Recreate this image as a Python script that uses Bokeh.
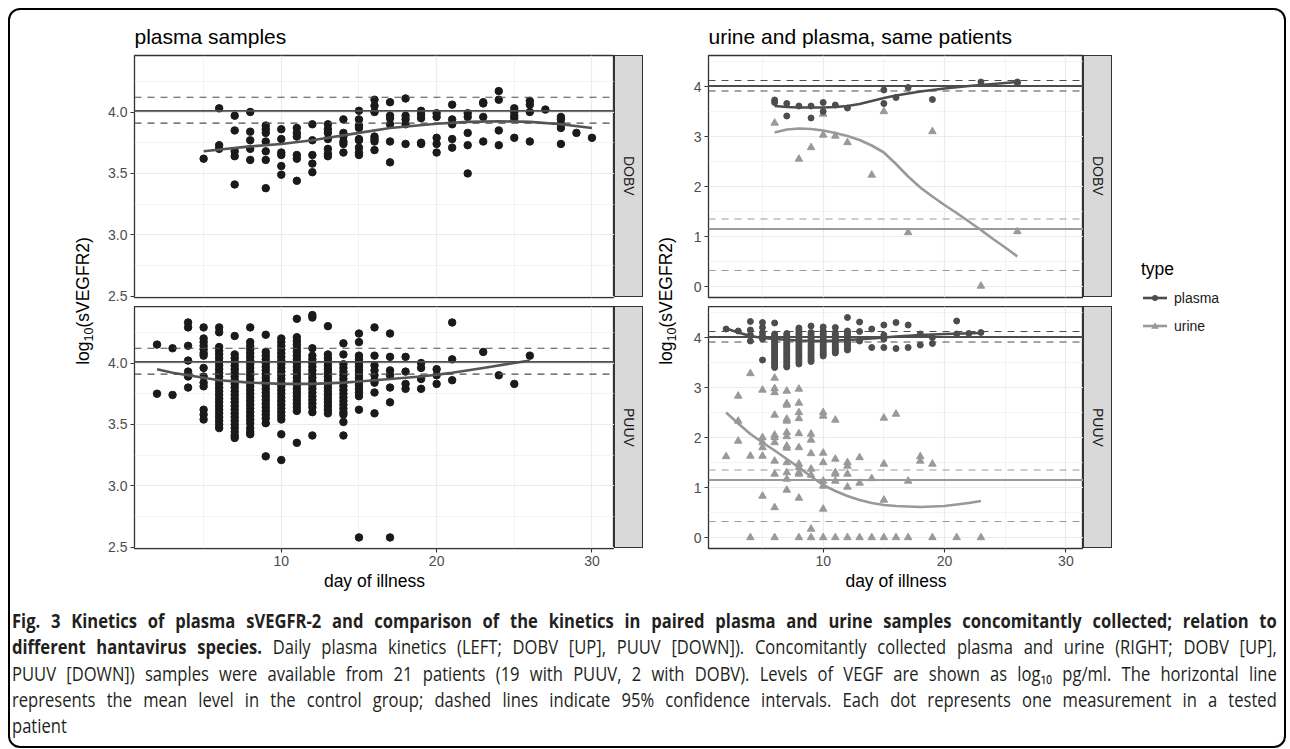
from bokeh.plotting import figure
from bokeh.models import Span, FixedTicker, NumeralTickFormatter, Div, Range1d
from bokeh.layouts import row, column
from bokeh.embed import file_html
from bokeh.resources import INLINE

FONT = "Liberation Sans"

# ---------------- data ----------------
# left panel, DOBV plasma (day -> values)
dobv_days = [5, 6, 7, 8, 9, 10, 11, 12, 13, 14, 15, 16, 17, 18, 19, 20, 21, 22, 23, 24, 25, 26, 27, 28, 29, 30]
dobv_vals = [
    [3.62], [4.03, 3.73, 3.70], [3.97, 3.85, 3.68, 3.64, 3.41], [4.00, 3.84, 3.77, 3.70, 3.61],
    [3.89, 3.86, 3.83, 3.76, 3.68, 3.61, 3.38], [3.86, 3.78, 3.67, 3.65, 3.56, 3.49],
    [3.87, 3.83, 3.80, 3.65, 3.62, 3.44], [3.90, 3.77, 3.65, 3.58, 3.51],
    [3.90, 3.86, 3.83, 3.78, 3.70, 3.66, 3.64], [3.94, 3.83, 3.80, 3.76, 3.74, 3.67],
    [4.01, 3.94, 3.89, 3.87, 3.78, 3.77, 3.71, 3.67, 3.65], [4.10, 4.05, 4.00, 3.80, 3.78, 3.76, 3.69],
    [4.08, 3.97, 3.95, 3.90, 3.76, 3.59], [4.11, 3.97, 3.94, 3.90, 3.74], [4.01, 3.98, 3.95, 3.75, 3.74],
    [3.99, 3.96, 3.79, 3.74, 3.67], [4.06, 3.94, 3.90, 3.78, 3.71], [3.99, 3.96, 3.83, 3.73, 3.50],
    [4.08, 4.07, 3.96, 3.76], [4.17, 4.10, 3.85, 3.73], [4.03, 4.00, 3.97, 3.95, 3.79],
    [4.09, 4.06, 4.00, 3.76], [4.02], [3.96, 3.94, 3.90, 3.87, 3.74], [3.83], [3.79],
]
dobv_smooth_x = [5, 8, 10, 12, 15, 17, 20, 22, 24, 26, 28, 30]
dobv_smooth_y = [3.68, 3.72, 3.74, 3.77, 3.83, 3.87, 3.905, 3.92, 3.925, 3.92, 3.90, 3.87]

# left panel, PUUV plasma
puuv_days = [2, 3, 4, 5, 6, 7, 8, 9, 10, 11, 12, 13, 14, 15, 16, 17, 18, 19, 20, 21, 23, 24, 25, 26]
puuv_vals = [
    [4.15, 3.75], [4.12, 3.74], [4.33, 4.29, 4.14, 4.02, 3.93, 3.89, 3.80],
    [4.29, 4.20, 4.17, 4.14, 4.11, 4.08, 4.06, 3.96, 3.89, 3.84, 3.81, 3.62, 3.58, 3.54],
    [4.29, 4.25, 4.13, 4.10, 4.07, 4.04, 4.01, 3.98, 3.95, 3.92, 3.89, 3.86, 3.83, 3.80, 3.77, 3.74,
     3.71, 3.68, 3.65, 3.62, 3.59, 3.56, 3.53, 3.50, 3.47],
    [4.22, 4.07, 4.04, 4.01, 3.98, 3.95, 3.92, 3.89, 3.86, 3.83, 3.80, 3.77, 3.74, 3.71, 3.68, 3.65,
     3.62, 3.59, 3.56, 3.53, 3.50, 3.47, 3.44, 3.41, 3.39],
    [4.29, 4.17, 4.14, 4.11, 4.08, 4.05, 4.02, 3.99, 3.96, 3.93, 3.90, 3.87, 3.84, 3.81, 3.78, 3.75,
     3.72, 3.69, 3.66, 3.63, 3.60, 3.57, 3.54, 3.51, 3.47, 3.44, 3.42],
    [4.23, 4.09, 4.06, 4.03, 4.00, 3.97, 3.94, 3.91, 3.88, 3.85, 3.82, 3.79, 3.76, 3.73, 3.70, 3.67,
     3.64, 3.61, 3.58, 3.55, 3.51, 3.24],
    [4.20, 4.17, 4.14, 4.11, 4.08, 4.05, 4.02, 3.99, 3.96, 3.93, 3.90, 3.87, 3.84, 3.81, 3.78, 3.75,
     3.72, 3.69, 3.66, 3.63, 3.60, 3.57, 3.54, 3.42, 3.21],
    [4.36, 4.21, 4.18, 4.15, 4.12, 4.09, 4.06, 4.03, 4.00, 3.97, 3.94, 3.91, 3.88, 3.85, 3.82, 3.79,
     3.76, 3.73, 3.70, 3.67, 3.64, 3.61, 3.35],
    [4.39, 4.37, 4.12, 4.06, 4.03, 4.00, 3.97, 3.94, 3.91, 3.88, 3.85, 3.82, 3.79, 3.76, 3.73, 3.70,
     3.67, 3.64, 3.60, 3.41],
    [4.30, 4.07, 4.04, 4.01, 3.98, 3.95, 3.92, 3.89, 3.86, 3.83, 3.80, 3.77, 3.74, 3.71, 3.68, 3.65,
     3.62, 3.59],
    [4.16, 4.07, 3.99, 3.96, 3.93, 3.90, 3.87, 3.84, 3.81, 3.78, 3.75, 3.72, 3.69, 3.66, 3.63, 3.60,
     3.58, 3.52, 3.41],
    [4.24, 4.17, 4.06, 4.03, 4.00, 3.97, 3.94, 3.91, 3.88, 3.85, 3.82, 3.79, 3.76, 3.73, 3.62, 2.58],
    [4.29, 4.06, 3.98, 3.94, 3.90, 3.86, 3.84, 3.76, 3.59], [4.24, 4.05, 3.94, 3.90, 3.80, 3.68, 2.58],
    [4.05, 3.93, 3.83, 3.79], [4.00, 3.96, 3.87, 3.79], [3.95, 3.90, 3.83], [4.33, 4.03, 3.86],
    [4.09], [3.90], [3.83], [4.06],
]
puuv_smooth_x = [2, 3, 4, 5, 6, 8, 10, 12, 14, 15, 17, 19, 21, 23, 26]
puuv_smooth_y = [3.95, 3.92, 3.90, 3.88, 3.86, 3.84, 3.83, 3.83, 3.84, 3.85, 3.87, 3.89, 3.92, 3.96, 4.02]

# right panel, DOBV paired samples
r_dobv_plasma_days = [6, 7, 8, 9, 10, 11, 12, 15, 16, 17, 19, 23, 26]
r_dobv_plasma_vals = [[3.73, 3.68], [3.66, 3.41], [3.61], [3.61, 3.37], [3.68, 3.50], [3.63], [3.57],
                      [3.93, 3.66], [3.78], [3.98], [3.74], [4.09], [4.09, 4.07]]
r_dobv_urine_days = [6, 8, 9, 10, 11, 12, 14, 15, 17, 19, 23, 26]
r_dobv_urine_vals = [[3.27], [2.55], [2.78], [3.45, 3.03], [3.01], [2.88], [2.23], [3.50], [1.08],
                     [3.10], [0.01], [1.10]]
r_dobv_plasma_smooth_x = [6, 7, 8, 9, 10, 11, 12, 13, 14, 15, 16, 17, 18, 20, 22, 24, 26]
r_dobv_plasma_smooth_y = [3.61, 3.59, 3.58, 3.58, 3.58, 3.59, 3.61, 3.65, 3.71, 3.77, 3.82, 3.86, 3.90,
                          3.96, 4.01, 4.05, 4.09]
r_dobv_urine_smooth_x = [6, 7, 8, 9, 10, 11, 12, 13, 14, 15, 16, 17, 18, 19, 20, 21, 22, 23, 24, 25, 26]
r_dobv_urine_smooth_y = [3.08, 3.14, 3.16, 3.15, 3.12, 3.07, 3.01, 2.93, 2.82, 2.68, 2.45, 2.20, 1.98,
                         1.80, 1.63, 1.47, 1.30, 1.13, 0.95, 0.78, 0.60]

# right panel, PUUV paired samples
r_puuv_plasma_days = [2, 3, 4, 5, 6, 7, 8, 9, 10, 11, 12, 13, 14, 15, 16, 17, 18, 19, 21, 22, 23]
r_puuv_plasma_vals = [
    [4.17], [4.13], [4.32, 4.15, 4.05, 3.93], [4.30, 4.20, 4.10, 4.03, 3.97, 3.55],
    [4.29, 4.07, 4.03, 3.99, 3.95, 3.91, 3.87, 3.83, 3.79, 3.75, 3.71, 3.67, 3.63, 3.59, 3.55, 3.51,
     3.47, 3.43, 3.40],
    [4.08, 4.04, 4.00, 3.96, 3.92, 3.88, 3.84, 3.80, 3.76, 3.72, 3.68, 3.64, 3.60, 3.56, 3.52, 3.48,
     3.44, 3.41],
    [4.19, 4.15, 4.11, 4.07, 4.03, 3.99, 3.95, 3.91, 3.87, 3.83, 3.79, 3.75, 3.71, 3.67, 3.63, 3.59,
     3.55, 3.51, 3.47],
    [4.23, 4.10, 4.06, 4.02, 3.98, 3.94, 3.90, 3.86, 3.82, 3.78, 3.74, 3.70, 3.66, 3.62, 3.58, 3.55, 3.52],
    [4.21, 4.13, 4.09, 4.05, 4.01, 3.97, 3.93, 3.89, 3.85, 3.81, 3.77, 3.73, 3.69, 3.66, 3.63],
    [4.20, 4.10, 4.06, 4.02, 3.98, 3.94, 3.90, 3.86, 3.82, 3.78, 3.74, 3.71, 3.69],
    [4.40, 4.13, 4.09, 4.05, 4.01, 3.97, 3.93, 3.89, 3.85, 3.81, 3.78, 3.75],
    [4.31, 4.12, 3.93], [4.17, 3.80], [4.25, 4.05, 3.97, 3.80], [4.30, 3.78], [4.25, 3.80],
    [4.07, 3.85], [4.00, 3.88], [4.33, 4.07], [4.08], [4.10],
]
r_puuv_urine_days = [2, 3, 4, 5, 6, 7, 8, 9, 10, 11, 12, 13, 14, 15, 16, 17, 18, 19, 21, 23]
r_puuv_urine_vals = [
    [1.62], [2.83, 2.33, 1.93], [3.28, 1.63, 0.0], [2.95, 2.00, 1.90, 1.80, 1.63, 0.83],
    [3.19, 2.98, 2.90, 2.45, 2.05, 2.00, 1.90, 1.53, 1.27, 0.60, 0.0],
    [2.93, 2.68, 2.65, 2.37, 2.33, 2.10, 2.02, 1.83, 1.79, 1.50, 1.30, 1.17, 0.95],
    [2.97, 2.69, 2.50, 2.38, 2.08, 1.80, 1.47, 1.40, 1.30, 1.27, 0.79, 0.0],
    [2.07, 1.95, 1.68, 1.37, 1.25, 0.17, 0.0], [2.50, 2.43, 1.69, 1.50, 1.13, 1.03, 0.57, 0.0],
    [2.35, 1.57, 1.30, 1.27, 1.13, 0.0], [1.50, 1.43, 1.27, 1.01, 0.0], [1.60, 1.09, 0.0],
    [1.18, 0.0], [2.39, 1.47, 0.75, 0.0], [2.47, 0.0], [1.13, 0.0], [1.62, 1.53], [1.47, 0.0],
    [0.0], [0.0],
]
r_puuv_plasma_smooth_x = [2, 3, 4, 5, 6, 8, 10, 12, 14, 16, 18, 20, 23]
r_puuv_plasma_smooth_y = [4.18, 4.10, 4.03, 3.99, 3.97, 3.94, 3.93, 3.95, 3.98, 4.02, 4.05, 4.07, 4.09]
r_puuv_urine_smooth_x = [2, 3, 4, 5, 6, 7, 8, 9, 10, 11, 12, 13, 14, 15, 16, 17, 18, 19, 20, 21, 22, 23]
r_puuv_urine_smooth_y = [2.50, 2.28, 2.07, 1.90, 1.74, 1.57, 1.40, 1.22, 1.05, 0.93, 0.83, 0.75, 0.69,
                         0.65, 0.63, 0.62, 0.61, 0.62, 0.63, 0.66, 0.69, 0.73]

# control group reference levels (mean, lower CI, upper CI)
plasma_ctrl = [4.01, 3.91, 4.12]
urine_ctrl = [1.15, 0.32, 1.35]

x_ticks = [10, 20, 30]
x_minor = [5, 15, 25]
left_y_ticks = [2.5, 3.0, 3.5, 4.0]
left_y_minor = [2.75, 3.25, 3.75, 4.25]
right_y_ticks = [0, 1, 2, 3, 4]
right_y_minor = [0.5, 1.5, 2.5, 3.5, 4.5]

C_BLACK = "#1a1a1a"
C_PLASMA = "#4d4d4d"
C_URINE = "#999999"


def flatten(days, groups):
    xs, ys = [], []
    for d, g in zip(days, groups):
        for v in g:
            xs.append(d)
            ys.append(v)
    return xs, ys


def make_panel(yr, yticks, yminor, yfmt, fw, left, top, bottom, show_x, title=None):
    p = figure(frame_width=fw, frame_height=242, x_range=Range1d(0.55, 31.45), y_range=Range1d(*yr),
               output_backend="svg", toolbar_location=None,
               min_border_left=left, min_border_right=0, min_border_top=top, min_border_bottom=bottom)
    p.background_fill_color = "white"
    p.border_fill_color = "white"
    p.outline_line_color = "#333333"
    p.outline_line_width = 1.3
    xt = FixedTicker(ticks=x_ticks, minor_ticks=x_minor)
    yt = FixedTicker(ticks=yticks, minor_ticks=yminor)
    p.xaxis.ticker = xt
    p.yaxis.ticker = yt
    p.xgrid.ticker = xt
    p.ygrid.ticker = yt
    for g in (p.xgrid, p.ygrid):
        g.grid_line_color = "#ebebeb"
        g.grid_line_width = 1.2
        g.minor_grid_line_color = "#ebebeb"
        g.minor_grid_line_width = 0.6
    for ax in (p.xaxis, p.yaxis):
        ax.axis_line_color = None
        ax.major_tick_line_color = "#333333"
        ax.major_tick_line_width = 1.1
        ax.major_tick_out = 4
        ax.major_tick_in = 0
        ax.minor_tick_line_color = None
        ax.major_label_text_font = FONT
        ax.major_label_text_font_size = "14px"
        ax.major_label_text_color = "#4d4d4d"
        ax.major_label_standoff = 3
    p.yaxis.formatter = NumeralTickFormatter(format=yfmt)
    if show_x:
        p.xaxis.axis_label = "day of illness"
        p.xaxis.axis_label_text_font = FONT
        p.xaxis.axis_label_text_font_size = "17.5px"
        p.xaxis.axis_label_text_font_style = "normal"
        p.xaxis.axis_label_text_color = "#000000"
        p.xaxis.axis_label_standoff = 2
    else:
        p.xaxis.visible = False
    if title:
        p.title.text = title
        p.title.text_font = FONT
        p.title.text_font_size = "21px"
        p.title.text_font_style = "normal"
        p.title.text_color = "#000000"
        p.title.align = "left"
        p.title.standoff = 16
    return p


def add_ctrl(p, levels, color):
    p.add_layout(Span(location=levels[0], dimension="width", line_color=color, line_width=1.8))
    for lv in levels[1:]:
        p.add_layout(Span(location=lv, dimension="width", line_color=color, line_width=1.2,
                          line_dash="7 6"))


def strip(label, mt):
    html = ('<div style="width:29px;height:242px;box-sizing:border-box;background:#d9d9d9;'
            'border:1.3px solid #333333;display:flex;align-items:center;justify-content:center;'
            'writing-mode:vertical-rl;font-family:\'Liberation Sans\';font-size:14px;color:#1a1a1a">'
            + label + '</div>')
    return Div(text=html, width=29, height=242, margin=(mt, 0, 0, 0))


def ylabel(width, cx, cy, h):
    html = ('<div style="position:relative;width:%dpx;height:%dpx">'
            '<div style="position:absolute;left:%dpx;top:%dpx;transform:translate(-50%%,-50%%) rotate(-90deg);'
            'white-space:nowrap;font-family:\'Liberation Sans\';font-size:17.5px;color:#000">'
            'log<sub style="font-size:12.5px">10</sub>(sVEGFR2)</div></div>') % (width, h, cx, cy)
    return Div(text=html, width=width, height=h, margin=(0, 0, 0, 0))


LEFT_YR = (2.49, 4.46)
RIGHT_YR = (-0.22, 4.62)

# ---- left: plasma samples ----
p_tl = make_panel(LEFT_YR, left_y_ticks, left_y_minor, "0.0", 480, 34, 45, 9, False, "plasma samples")
add_ctrl(p_tl, plasma_ctrl, "#4d4d4d")
x, y = flatten(dobv_days, dobv_vals)
p_tl.scatter(x, y, size=7.5, color=C_BLACK)
p_tl.line(dobv_smooth_x, dobv_smooth_y, line_color="#555555", line_width=2.6)

p_bl = make_panel(LEFT_YR, left_y_ticks, left_y_minor, "0.0", 480, 34, 0, 50, True)
add_ctrl(p_bl, plasma_ctrl, "#4d4d4d")
x, y = flatten(puuv_days, puuv_vals)
p_bl.scatter(x, y, size=7.5, color=C_BLACK)
p_bl.line(puuv_smooth_x, puuv_smooth_y, line_color="#555555", line_width=2.6)

# ---- right: urine and plasma ----
p_tr = make_panel(RIGHT_YR, right_y_ticks, right_y_minor, "0", 375, 20, 45, 9, False,
                  "urine and plasma, same patients")
add_ctrl(p_tr, plasma_ctrl, C_PLASMA)
add_ctrl(p_tr, urine_ctrl, C_URINE)
x, y = flatten(r_dobv_urine_days, r_dobv_urine_vals)
p_tr.scatter(x, y, marker="triangle", size=7.5, color=C_URINE)
x, y = flatten(r_dobv_plasma_days, r_dobv_plasma_vals)
p_tr.scatter(x, y, size=6, color=C_PLASMA)
p_tr.line(r_dobv_urine_smooth_x, r_dobv_urine_smooth_y, line_color=C_URINE, line_width=2.6)
p_tr.line(r_dobv_plasma_smooth_x, r_dobv_plasma_smooth_y, line_color=C_PLASMA, line_width=2.6)

p_br = make_panel(RIGHT_YR, right_y_ticks, right_y_minor, "0", 375, 20, 0, 50, True)
add_ctrl(p_br, plasma_ctrl, C_PLASMA)
add_ctrl(p_br, urine_ctrl, C_URINE)
x, y = flatten(r_puuv_urine_days, r_puuv_urine_vals)
p_br.scatter(x, y, marker="triangle", size=7.5, color=C_URINE)
x, y = flatten(r_puuv_plasma_days, r_puuv_plasma_vals)
p_br.scatter(x, y, size=6, color=C_PLASMA)
p_br.line(r_puuv_urine_smooth_x, r_puuv_urine_smooth_y, line_color=C_URINE, line_width=2.6)
p_br.line(r_puuv_plasma_smooth_x, r_puuv_plasma_smooth_y, line_color=C_PLASMA, line_width=2.6)

MAIN_H = 588
left_block = column(row(p_tl, strip("DOBV", 45)), row(p_bl, strip("PUUV", 0)))
right_block = column(row(p_tr, strip("DOBV", 45)), row(p_br, strip("PUUV", 0)))

legend_html = (
    '<div style="position:relative;width:172px;height:588px;font-family:\'Liberation Sans\';color:#000">'
    '<div style="position:absolute;left:29px;top:249px;font-size:17.5px;line-height:20px">type</div>'
    '<svg style="position:absolute;left:31px;top:280px" width="24" height="16">'
    '<line x1="0" y1="8" x2="24" y2="8" stroke="#4d4d4d" stroke-width="2.6"/>'
    '<circle cx="12" cy="8" r="3" fill="#4d4d4d"/></svg>'
    '<div style="position:absolute;left:62px;top:280px;font-size:14px;line-height:16px;color:#1a1a1a">plasma</div>'
    '<svg style="position:absolute;left:31px;top:308px" width="24" height="16">'
    '<line x1="0" y1="8" x2="24" y2="8" stroke="#999999" stroke-width="2.6"/>'
    '<polygon points="12,4.2 15.8,10.8 8.2,10.8" fill="#999999"/></svg>'
    '<div style="position:absolute;left:62px;top:308px;font-size:14px;line-height:16px;color:#1a1a1a">urine</div>'
    '</div>')
legend = Div(text=legend_html, width=172, height=MAIN_H, margin=(0, 0, 0, 0))

main = row(ylabel(90, 75, 291, MAIN_H), left_block, ylabel(45, 25, 291, MAIN_H), right_block, legend)

LINE = ('<div style="width:1488px;transform:scaleX(0.85);transform-origin:0 0;text-align:%s;'
        'text-align-last:%s;height:26.3px">%s</div>')
caption_lines = [
    '<b>Fig. 3 Kinetics of plasma sVEGFR-2 and comparison of the kinetics in paired plasma and urine samples concomitantly collected; relation to</b>',
    '<b>different hantavirus species.</b> Daily plasma kinetics (LEFT; DOBV [UP], PUUV [DOWN]). Concomitantly collected plasma and urine (RIGHT; DOBV [UP],',
    'PUUV [DOWN]) samples were available from 21 patients (19 with PUUV, 2 with DOBV). Levels of VEGF are shown as log\u2081\u2080 pg/ml. The horizontal line',
    'represents the mean level in the control group; dashed lines indicate 95% confidence intervals. Each dot represents one measurement in a tested',
]
cap_html = ('<div style="width:1265px;overflow:hidden;padding-top:10px;margin-left:2px;font-family:\'Open Sans\';'
            'font-size:19.5px;line-height:26.3px;color:#231f20">'
            + "".join(LINE % ("justify", "justify", t) for t in caption_lines)
            + LINE % ("left", "left", "patient")
            + '</div>')
caption = Div(text=cap_html, width=1274, height=148, margin=(0, 0, 0, 0))

page = column(main, caption, styles={"border": "2px solid #000000", "border-radius": "12px",
                                     "background-color": "#ffffff", "display": "inline-flex",
                                     "margin-left": "8px", "margin-top": "8px"})

open("out.html", "w").write(file_html(page, INLINE))
